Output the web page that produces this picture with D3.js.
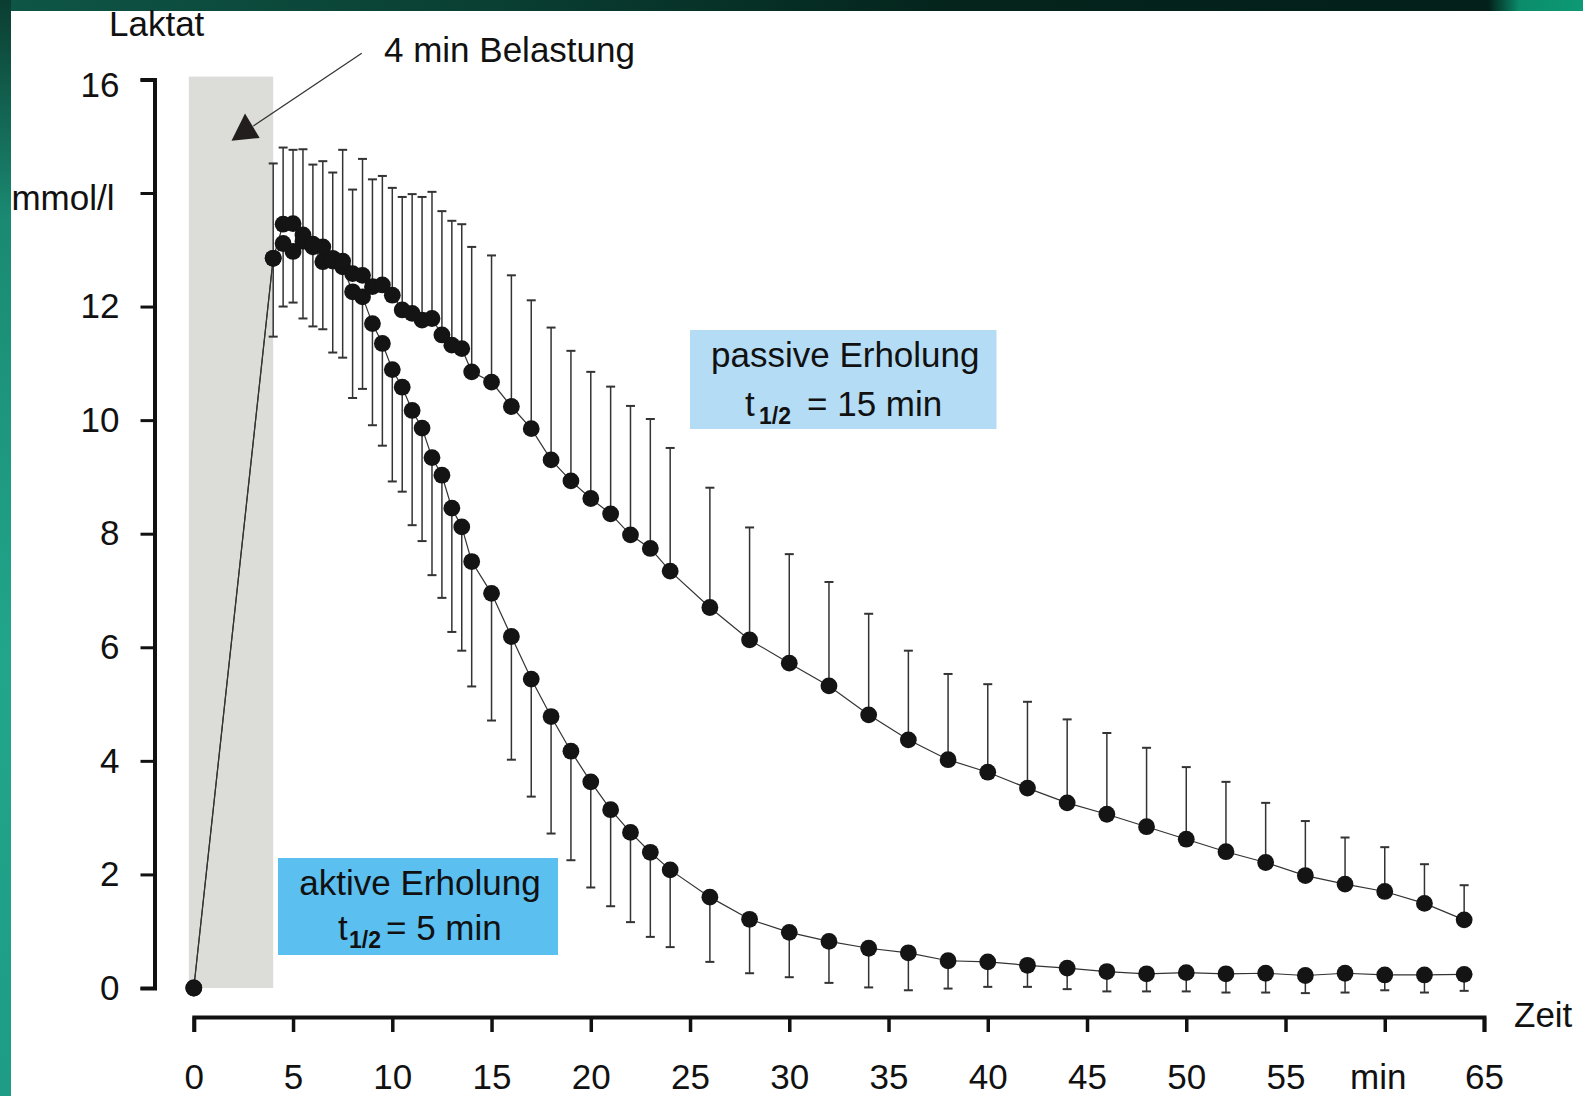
<!DOCTYPE html>
<html>
<head>
<meta charset="utf-8">
<script src="https://cdn.jsdelivr.net/npm/d3@7"></script>
<style>
  html, body { margin: 0; padding: 0; overflow: hidden; background: #0b3a30; }
  svg { display: block; }
  text { font-family: "Liberation Sans", Arial, Helvetica, sans-serif; fill: #111; }
</style>
</head>
<body>
<svg id="chart" width="1583" height="1096"></svg>
<script>
// Sampling times (min)
const times = [0, 4, 4.5, 5, 5.5, 6, 6.5, 7, 7.5, 8, 8.5, 9, 9.5, 10, 10.5, 11, 11.5, 12, 12.5, 13, 13.5, 14,
  15, 16, 17, 18, 19, 20, 21, 22, 23, 24,
  26, 28, 30, 32, 34, 36, 38, 40, 42, 44, 46, 48, 50, 52, 54, 56, 58, 60, 62, 64];

// Lactate means (mmol/l), passive recovery
const passiveMean = [0, 12.85, 13.45, 13.46, 13.26, 13.10, 13.05, 12.85, 12.80, 12.58, 12.55, 12.35, 12.38, 12.20, 11.94, 11.88, 11.76, 11.79, 11.50, 11.32, 11.26, 10.85,
  10.67, 10.24, 9.85, 9.30, 8.93, 8.62, 8.35, 7.98, 7.74, 7.34,
  6.70, 6.13, 5.72, 5.32, 4.81, 4.37, 4.02, 3.80, 3.52, 3.26, 3.06, 2.84, 2.62, 2.40, 2.21, 1.98, 1.83, 1.70, 1.49, 1.20];

// Standard deviation, passive recovery (drawn upwards)
const passiveSD = [0, 1.67, 1.35, 1.30, 1.51, 1.40, 1.51, 1.51, 1.96, 1.48, 2.05, 1.89, 1.92, 1.89, 1.99, 2.10, 2.17, 2.23, 2.18, 2.19, 2.19, 2.20,
  2.23, 2.31, 2.26, 2.33, 2.29, 2.23, 2.24, 2.27, 2.28, 2.17,
  2.11, 1.98, 1.92, 1.83, 1.78, 1.57, 1.51, 1.55, 1.52, 1.47, 1.43, 1.39, 1.27, 1.23, 1.05, 0.96, 0.82, 0.78, 0.69, 0.61];

// Lactate means (mmol/l), active recovery
const activeMean = [0, 12.85, 13.11, 12.97, 13.15, 13.05, 12.79, 12.80, 12.70, 12.26, 12.17, 11.70, 11.35, 10.89, 10.58, 10.17, 9.86, 9.34, 9.03, 8.45, 8.12, 7.51,
  6.95, 6.19, 5.44, 4.78, 4.17, 3.63, 3.14, 2.74, 2.39, 2.08,
  1.60, 1.21, 0.98, 0.82, 0.70, 0.62, 0.48, 0.46, 0.40, 0.35, 0.29, 0.25, 0.27, 0.25, 0.26, 0.22, 0.26, 0.23, 0.23, 0.24];

// Standard deviation, active recovery (drawn downwards)
const activeSD = [0, 1.38, 1.11, 0.90, 1.36, 1.40, 1.19, 1.61, 1.60, 1.87, 1.62, 1.79, 1.80, 1.97, 1.84, 2.02, 1.99, 2.07, 2.16, 2.18, 2.18, 2.20,
  2.24, 2.17, 2.07, 2.06, 1.92, 1.86, 1.70, 1.58, 1.49, 1.36,
  1.14, 0.95, 0.79, 0.73, 0.69, 0.66, 0.49, 0.44, 0.38, 0.37, 0.35, 0.31, 0.33, 0.33, 0.34, 0.31, 0.34, 0.27, 0.31, 0.29];

// Axis ticks
const xTicks = [0, 5, 10, 15, 20, 25, 30, 35, 40, 45, 50, 55, 60, 65];
const xTickLabels = ["0", "5", "10", "15", "20", "25", "30", "35", "40", "45", "50", "55", "min", "65"];
const yTicks = [0, 2, 4, 6, 8, 10, 12, 14, 16];
const yTickLabels = ["0", "2", "4", "6", "8", "10", "12", "mmol/l", "16"];

// Exercise period (min)
const loadPeriod = [-0.25, 4];

const svg = d3.select("#chart");
const W = 1583, H = 1096;
const FS = 35;

// Backdrop: dark green slide frame with white panel
const defs = svg.append("defs");
const gl = defs.append("linearGradient").attr("id", "leftStrip").attr("x1", 0).attr("y1", 0).attr("x2", 0).attr("y2", 1);
gl.append("stop").attr("offset", "0").attr("stop-color", "#0b3d31");
gl.append("stop").attr("offset", "0.2").attr("stop-color", "#1a8a72");
gl.append("stop").attr("offset", "0.6").attr("stop-color", "#21a68b");
gl.append("stop").attr("offset", "1").attr("stop-color", "#1e9c86");
const gt = defs.append("linearGradient").attr("id", "topStrip").attr("x1", 0).attr("y1", 0).attr("x2", 1).attr("y2", 0);
gt.append("stop").attr("offset", "0").attr("stop-color", "#0e5646");
gt.append("stop").attr("offset", "0.3").attr("stop-color", "#0a4034");
gt.append("stop").attr("offset", "0.6").attr("stop-color", "#04241c");
gt.append("stop").attr("offset", "0.94").attr("stop-color", "#03201a");
gt.append("stop").attr("offset", "0.96").attr("stop-color", "#0b8c6a");
gt.append("stop").attr("offset", "1").attr("stop-color", "#0d9a74");

svg.append("rect").attr("x", 0).attr("y", 0).attr("width", W).attr("height", 11).attr("fill", "url(#topStrip)");
svg.append("rect").attr("x", 0).attr("y", 0).attr("width", 11).attr("height", H).attr("fill", "url(#leftStrip)");
svg.append("rect").attr("x", 11).attr("y", 11).attr("width", W - 11).attr("height", H - 11).attr("fill", "#ffffff");

// Scales
const x = d3.scaleLinear().domain([0, 65]).range([193.8, 1484]);
const y = d3.scaleLinear().domain([0, 16]).range([988, 79.4]);

// Shaded exercise period
svg.append("rect")
  .attr("x", x(loadPeriod[0]))
  .attr("y", y(16.05))
  .attr("width", x(loadPeriod[1]) - x(loadPeriod[0]))
  .attr("height", y(0) - y(16.05))
  .attr("fill", "#dcdcd9");

// Y axis
const yAxis = d3.axisLeft(y)
  .tickValues(yTicks)
  .tickFormat((d, i) => yTickLabels[i])
  .tickSize(14)
  .tickPadding(21);
const gy = svg.append("g").attr("transform", "translate(154.5,0)").call(yAxis);
gy.select(".domain").attr("stroke", "#111").attr("stroke-width", 4);
gy.selectAll(".tick line").attr("stroke", "#111").attr("stroke-width", 3);
gy.selectAll(".tick text").attr("font-size", FS).attr("fill", "#111")
  .style("font-family", '"Liberation Sans", Arial, sans-serif');
gy.selectAll(".tick").filter(d => d === 14).select("text").attr("x", -40).attr("y", 5);
gy.selectAll(".tick").filter(d => d === 16).select("text").attr("y", 6);

// X axis (detached below the plot)
const xAxis = d3.axisBottom(x)
  .tickValues(xTicks)
  .tickFormat((d, i) => xTickLabels[i])
  .tickSize(15)
  .tickPadding(32);
const gx = svg.append("g").attr("transform", "translate(0,1017)").call(xAxis);
gx.select(".domain").attr("stroke", "#111").attr("stroke-width", 4);
gx.selectAll(".tick line").attr("stroke", "#111").attr("stroke-width", 3.5);
gx.selectAll(".tick text").attr("font-size", FS).attr("fill", "#111")
  .style("font-family", '"Liberation Sans", Arial, sans-serif');
gx.selectAll(".tick").filter(d => d === 60).select("text").attr("x", -7);

// Axis titles
svg.append("text").attr("x", 109).attr("y", 36).attr("font-size", FS).text("Laktat");
svg.append("text").attr("x", 1514).attr("y", 1027).attr("font-size", FS).text("Zeit");

// Error bars
function errorBars(means, sds, dir, cls) {
  const rows = times.map((t, i) => ({ t, m: means[i], s: sds[i] })).filter(d => d.s > 0);
  const g = svg.append("g").attr("class", cls).attr("stroke", "#333").attr("stroke-width", 1.5);
  g.selectAll("line.stem").data(rows).join("line").attr("class", "stem")
    .attr("x1", d => x(d.t)).attr("x2", d => x(d.t))
    .attr("y1", d => y(d.m)).attr("y2", d => y(d.m + dir * d.s));
  g.selectAll("line.cap").data(rows).join("line").attr("class", "cap")
    .attr("x1", d => x(d.t) - 4.5).attr("x2", d => x(d.t) + 4.5)
    .attr("y1", d => y(d.m + dir * d.s)).attr("y2", d => y(d.m + dir * d.s))
    .attr("stroke-width", 2);
}
errorBars(passiveMean, passiveSD, +1, "err-passive");
errorBars(activeMean, activeSD, -1, "err-active");

// Connecting lines
const line = d3.line().x((d, i) => x(times[i])).y(d => y(d));
svg.append("path").datum(activeMean).attr("d", line).attr("fill", "none").attr("stroke", "#333").attr("stroke-width", 1.2);
svg.append("path").datum(passiveMean).attr("d", line).attr("fill", "none").attr("stroke", "#333").attr("stroke-width", 1.2);

// Points
function dots(means, cls) {
  svg.append("g").attr("class", cls).selectAll("circle")
    .data(means).join("circle")
    .attr("cx", (d, i) => x(times[i])).attr("cy", d => y(d)).attr("r", 8.4)
    .attr("fill", "#141414");
}
dots(activeMean, "pts-active");
dots(passiveMean, "pts-passive");

// Annotation: exercise period
svg.append("line")
  .attr("x1", x(8.46)).attr("y1", y(16.46)).attr("x2", x(3.0)).attr("y2", y(15.18))
  .attr("stroke", "#333").attr("stroke-width", 1.2);
svg.append("polygon")
  .attr("points", [[x(2.58), y(15.40)], [x(1.90), y(14.92)], [x(3.32), y(14.97)]].map(p => p.join(",")).join(" "))
  .attr("fill", "#221e1e");
svg.append("text").attr("x", 384).attr("y", 62).attr("font-size", FS).text("4 min Belastung");

// Labelled boxes for the two recovery modes
function labelBox(x0, x1, y0, y1, fill, title, tX, subX, restX, rest, line1Y, line2Y) {
  svg.append("rect").attr("x", x0).attr("y", y0).attr("width", x1 - x0).attr("height", y1 - y0).attr("fill", fill);
  svg.append("text").attr("x", (x0 + x1) / 2 + 2).attr("y", line1Y).attr("text-anchor", "middle")
    .attr("font-size", FS).text(title);
  svg.append("text").attr("x", tX).attr("y", line2Y).attr("font-size", FS).text("t");
  svg.append("text").attr("x", subX).attr("y", line2Y + 8).attr("font-size", 23).attr("font-weight", "bold").text("1/2");
  svg.append("text").attr("x", restX).attr("y", line2Y).attr("font-size", FS).text(rest);
}
labelBox(690, 996.5, 330, 429, "#b4dcf5", "passive Erholung", 745, 759, 807, "= 15 min", 367, 416);
labelBox(278, 558, 858, 955, "#5bbff0", "aktive Erholung", 338, 349, 386, "= 5 min", 895, 940);
</script>
</body>
</html>
